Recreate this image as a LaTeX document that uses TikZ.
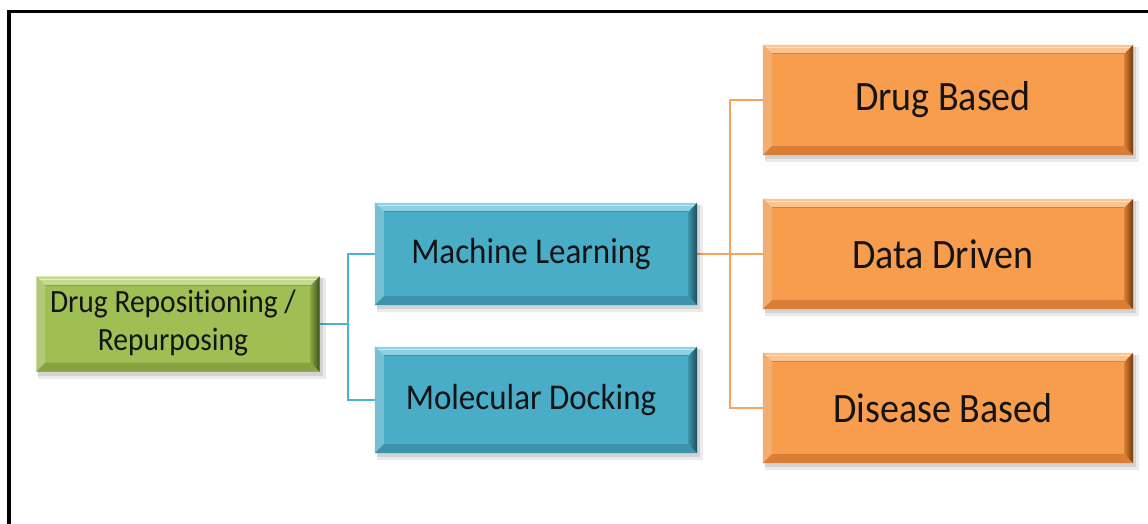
\documentclass[tikz,border=0pt]{standalone}
\usepackage{fontspec}
\setmainfont{Carlito}[Ligatures=NoCommon]
\usetikzlibrary{backgrounds}

\definecolor{grnbase}{HTML}{9FBF55}
\definecolor{grnlight}{HTML}{C5DA8E}
\definecolor{grnmid}{HTML}{86A443}
\definecolor{grndark}{HTML}{3E4F1C}
\definecolor{blubase}{HTML}{4AADC8}
\definecolor{blulight}{HTML}{8FD0E2}
\definecolor{blumid}{HTML}{3C93AC}
\definecolor{bludark}{HTML}{1B4B5A}
\definecolor{orgbase}{HTML}{F89C4E}
\definecolor{orglight}{HTML}{FBC38F}
\definecolor{orgmid}{HTML}{D97E34}
\definecolor{orgdark}{HTML}{6E3A0C}
\definecolor{bluline}{HTML}{4BB3D3}
\definecolor{orgline}{HTML}{F7A45C}
\definecolor{txt}{HTML}{141414}

% label text, slightly tall, set a little left of the box centre
\newcommand\boxtext[1]{\scalebox{1}[1.1]{#1}\hspace*{10pt}}

% bevelled rim of a box: #1 node, #2 light, #3 mid, #4 dark
\newcommand\bevelrim[4]{%
  \fill[#2] (#1.north west) -- (#1.north east) -- ([shift={(-9,9)}]#1.north east)
     -- ([shift={(9,9)}]#1.north west) -- cycle;
  \draw[white,opacity=.55,line width=1.2pt] ([shift={(3,3)}]#1.north west) -- ([shift={(-3,3)}]#1.north east);
  \draw[#3,line width=1pt] ([shift={(9,9)}]#1.north west) -- ([shift={(-9,9)}]#1.north east);
  \fill[#2!70!#3] (#1.north west) -- ([shift={(9,9)}]#1.north west)
     -- ([shift={(9,-9)}]#1.south west) -- (#1.south west) -- cycle;
  \fill[#3] (#1.south west) -- ([shift={(9,-9)}]#1.south west)
     -- ([shift={(-9,-9)}]#1.south east) -- (#1.south east) -- cycle;
  \shade[left color=#3, right color=#4] (#1.north east) -- (#1.south east)
     -- ([shift={(-9,-9)}]#1.south east) -- ([shift={(-9,9)}]#1.north east) -- cycle;
}
% soft drop shadow under a box
\newcommand\boxshadow[1]{%
  \begin{pgfonlayer}{background}
    \fill[black,opacity=.08] ([shift={(2,2)}]#1.north west) rectangle ([shift={(6,7)}]#1.south east);
    \fill[black,opacity=.10] ([shift={(2,2)}]#1.north west) rectangle ([shift={(3,4)}]#1.south east);
  \end{pgfonlayer}%
}

\tikzset{
  box/.style={rectangle, inner sep=0pt, text=txt, align=center},
  rootbox/.style={box, fill=grnbase, minimum width=283pt, minimum height=95pt,
    font=\fontsize{29.5}{34}\selectfont},
  midbox/.style={box, fill=blubase, minimum width=322pt, minimum height=102pt,
    font=\fontsize{33}{38}\selectfont},
  leafbox/.style={box, fill=orgbase, minimum width=370pt, minimum height=110pt,
    font=\fontsize{38}{44}\selectfont},
  blueconn/.style={draw=bluline, line width=2.4pt},
  orangeconn/.style={draw=orgline, line width=2.4pt},
}

\begin{document}
\begin{tikzpicture}[x=1pt, y=-1pt]
  \useasboundingbox (0,0) rectangle (1148,524);
  \begin{pgfonlayer}{background}
    \fill[white] (0,0) rectangle (1148,524);
  \end{pgfonlayer}

  % frame
  \draw[black, line width=3.8pt] (9.2,524) -- (9.2,11.5) -- (1148,11.5);

  % boxes
  \node[rootbox] (root) at (178,324)
    {\boxtext{\begin{tabular}{@{}c@{}}Drug Repositioning /\\Repurposing\end{tabular}}};
  \node[midbox] (ml) at (536,254) {\boxtext{Machine Learning}};
  \node[midbox, minimum height=106pt] (md) at (536,400) {\boxtext{Molecular Docking}};
  \node[leafbox] (db) at (948,100) {\boxtext{Drug Based}};
  \node[leafbox] (dd) at (948,254) {\boxtext{Data Driven}};
  \node[leafbox] (dis) at (948,408) {\boxtext{Disease Based}};

  % connectors
  \coordinate (jb) at (348,324);
  \coordinate (jo) at (730,254);
  \begin{pgfonlayer}{background}
    \draw[blueconn] (root.east) -- (jb);
    \draw[blueconn] (jb) |- (ml.west);
    \draw[blueconn] (jb) |- (md.west);
    \draw[orangeconn] (ml.east) -- (jo);
    \draw[orangeconn] (jo) |- (db.west);
    \draw[orangeconn] (jo) -- (dd.west);
    \draw[orangeconn] (jo) |- (dis.west);
  \end{pgfonlayer}

  \foreach \n in {root,ml,md,db,dd,dis} {\boxshadow{\n}}
  \bevelrim{root}{grnlight}{grnmid}{grndark}
  \bevelrim{ml}{blulight}{blumid}{bludark}
  \bevelrim{md}{blulight}{blumid}{bludark}
  \bevelrim{db}{orglight}{orgmid}{orgdark}
  \bevelrim{dd}{orglight}{orgmid}{orgdark}
  \bevelrim{dis}{orglight}{orgmid}{orgdark}
\end{tikzpicture}
\end{document}
